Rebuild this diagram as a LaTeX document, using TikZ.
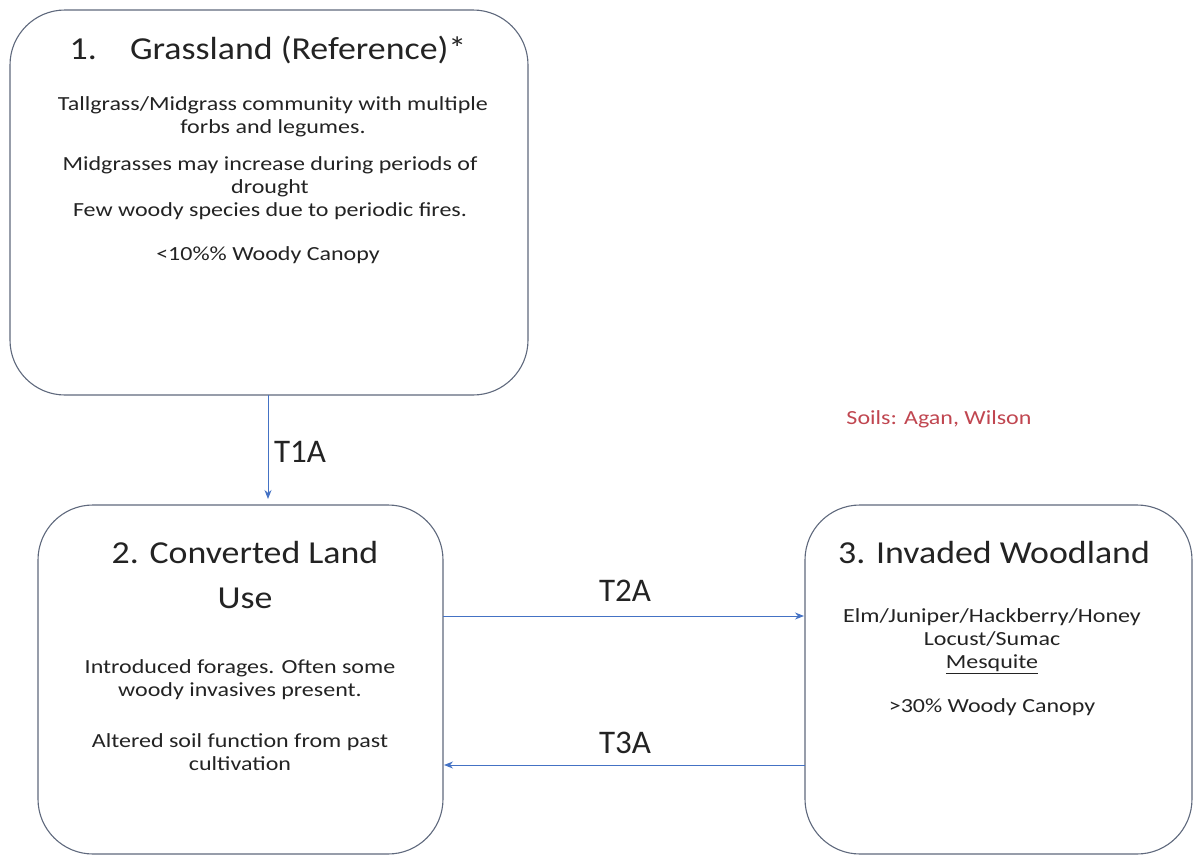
\documentclass[tikz,border=0pt]{standalone}
\usepackage{fontspec}
\setmainfont{Carlito}
\newfontfamily\ttlfont[FakeStretch=1.12]{Carlito}
\newfontfamily\bodyfont[FakeStretch=1.2]{Carlito}
\usetikzlibrary{arrows.meta}
\definecolor{boxline}{RGB}{95,105,125}
\definecolor{arrowblue}{RGB}{68,114,196}
\definecolor{soilred}{RGB}{192,70,80}
\definecolor{txt}{RGB}{35,35,35}
\tikzset{
  statebox/.style={draw=boxline, line width=1.1pt, rounded corners=55pt, inner sep=0pt},
  ttl/.style={text=txt, font=\ttlfont\fontsize{32}{44}\selectfont, align=center, inner sep=0pt},
  body/.style={text=txt, font=\bodyfont\fontsize{20}{23}\selectfont, align=center, inner sep=0pt},
  tlabel/.style={text=txt, font=\fontsize{33}{36}\selectfont, inner sep=0pt},
  trans/.style={draw=arrowblue, line width=1pt, -{Stealth[length=9pt,width=7pt]}},
}
\begin{document}
\begin{tikzpicture}[x=1pt,y=-1pt]
\useasboundingbox (0,0) rectangle (1195,857);
% boxes
\draw[statebox] (10,10) rectangle (528,395);
\draw[statebox] (38,505) rectangle (443,854);
\draw[statebox] (805,505) rectangle (1192,854);
\coordinate (b1s) at (268,395);
\coordinate (b2n) at (268,499);
\coordinate (b2e1) at (443,616);
\coordinate (b3w1) at (804,616);
\coordinate (b3w2) at (805,765);
\coordinate (b2e2) at (444,765);
% box 1 texts
\node[ttl] (t1) at (268,50) {1.\hspace{0.7em} Grassland (Reference)*};
\node[body] (p1a) at (273,117) {Tallgrass/Midgrass community with multiple\\forbs and legumes.};
\node[body] (p1b) at (270,188) {Midgrasses may increase during periods of\\drought\\Few woody species due to periodic fires.};
\node[body] (p1c) at (268,255) {<10\%\% Woody Canopy};
% box 2 texts
\node[ttl] (t2) at (245,575) {2. Converted Land\\Use};
\node[body] (p2a) at (240,680) {Introduced forages. Often some\\woody invasives present.};
\node[body] (p2b) at (240,752) {Altered soil function from past\\cultivation};
% box 3 texts
\node[ttl] (t3) at (994,553) {3. Invaded Woodland};
\node[body] (p3a) at (992,641) {Elm/Juniper/Hackberry/Honey\\Locust/Sumac\\\underline{Mesquite}};
\node[body] (p3b) at (992,707) {>30\% Woody Canopy};
% soils
\node[body, text=soilred] (soils) at (939,419) {Soils: Agan, Wilson};
% transitions
\draw[trans] (b1s) -- (b2n);
\node[tlabel] (l1) at (300,452) {T1A};
\draw[trans] (b2e1) -- (b3w1);
\node[tlabel] (l2) at (625,591) {T2A};
\draw[trans] (b3w2) -- (b2e2);
\node[tlabel] (l3) at (625,743) {T3A};
\end{tikzpicture}
\end{document}
